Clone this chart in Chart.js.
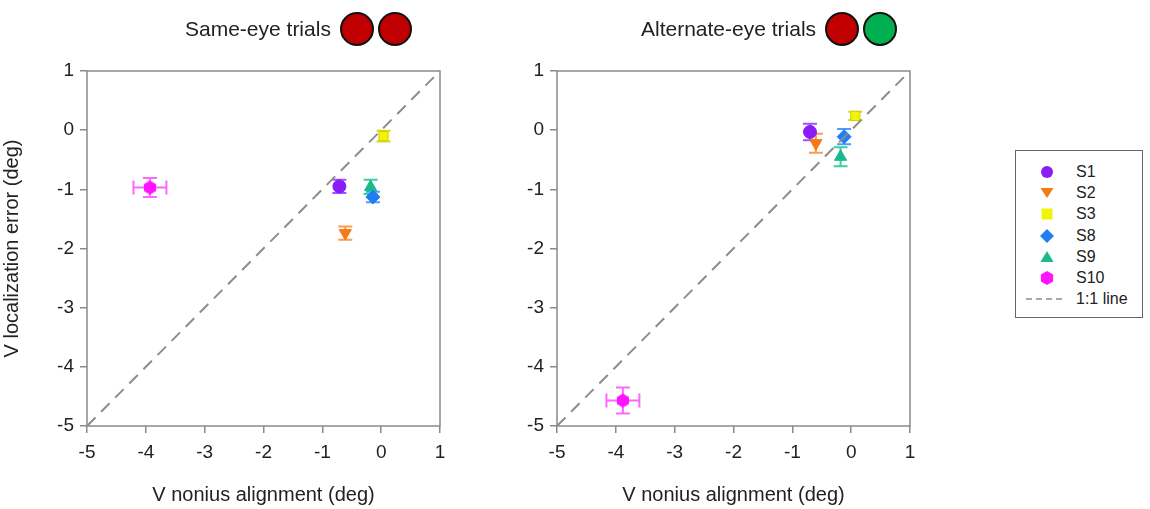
<!DOCTYPE html>
<html>
<head>
<meta charset="utf-8">
<title>V localization error vs V nonius alignment</title>
<script src="https://cdn.jsdelivr.net/npm/chart.js@4.4.1/dist/chart.umd.min.js"></script>
<style>
  html, body { margin: 0; padding: 0; background: #fff; }
  body { width: 1150px; height: 509px; position: relative; overflow: hidden;
         font-family: "Liberation Sans", Arial, sans-serif; color: #222; }
  .plot { position: absolute; top: 0; width: 470px; height: 509px; }
  .title { position: absolute; top: 11px; height: 36px; display: flex; align-items: center;
           font-size: 21px; white-space: nowrap; }
  .dot { display: inline-block; width: 30px; height: 30px; border: 2px solid #111;
         border-radius: 50%; margin-left: 4px; }
  .dot:first-of-type { margin-left: 9px; }
  #legend { position: absolute; left: 1015px; top: 150px; width: 126px; height: 166px;
            border: 1px solid #666; font-size: 16px; }
  #legend .row { position: absolute; left: 0; height: 20px; display: flex; align-items: center; }
  #legend svg { width: 56px; height: 20px; }
  #legend span { margin-left: 4px; }
</style>
</head>
<body>
<div class="plot" style="left:0"><canvas id="same"></canvas></div>
<div class="plot" style="left:470px"><canvas id="alt"></canvas></div>

<div class="title" style="left:185px">Same-eye trials
  <span class="dot" style="background:#c00000"></span><span class="dot" style="background:#c00000"></span></div>
<div class="title" style="left:641px">Alternate-eye trials
  <span class="dot" style="background:#c00000"></span><span class="dot" style="background:#00b050"></span></div>

<div id="legend"></div>

<script>
// subjects and their measured means / error bars
const subjects = ['S1', 'S2', 'S3', 'S8', 'S9', 'S10'];

const sameX    = [-0.71, -0.61, 0.04, -0.14, -0.18, -3.93];
const sameY    = [-0.95, -1.74, -0.10, -1.13, -0.96, -0.97];
const sameXErr = [0, 0, 0, 0, 0, 0.28];
const sameYErr = [0.11, 0.11, 0.09, 0.09, 0.12, 0.16];

const altX    = [-0.70, -0.60, 0.07, -0.12, -0.18, -3.88];
const altY    = [-0.03, -0.22, 0.24, -0.11, -0.45, -4.57];
const altXErr = [0, 0, 0, 0, 0, 0.28];
const altYErr = [0.14, 0.16, 0.07, 0.13, 0.16, 0.22];

const axisTicks = [-5, -4, -3, -2, -1, 0, 1];
const unityLine = [-5, 1];

const fills = ['#8a1cf5', '#f57a14', '#f2f20a', '#1f7ef0', '#19b98a', '#ff14ff'];
const bars  = ['#a050ff', '#ff9a4a', '#d8d820', '#4a9cff', '#3ccfa0', '#ff66ff'];

// hexagon marker for S10, Chart.js has no built-in hexagon
function hexagon(color, r) {
    var c = document.createElement('canvas');
    c.width = c.height = r * 2 + 2;
    var g = c.getContext('2d');
    g.beginPath();
    for (var i = 0; i < 6; i++) {
        var a = Math.PI / 6 + i * Math.PI / 3;
        var px = r + 1 + r * Math.cos(a), py = r + 1 + r * Math.sin(a);
        if (i === 0) g.moveTo(px, py); else g.lineTo(px, py);
    }
    g.closePath();
    g.fillStyle = color;
    g.fill();
    return c;
}

const styles = [
    { pointStyle: 'circle', radius: 6.5, rotation: 0 },
    { pointStyle: 'triangle', radius: 7, rotation: 180 },
    { pointStyle: 'rect', radius: 6.5, rotation: 0 },
    { pointStyle: 'rectRot', radius: 7, rotation: 0 },
    { pointStyle: 'triangle', radius: 7, rotation: 0 },
    { pointStyle: hexagon(fills[5], 7), radius: 7, rotation: 0 }
];

// vertical / horizontal error bars with caps, drawn under the markers
const errorBars = {
    id: 'errorBars',
    beforeDatasetsDraw: function(chart) {
        var ctx = chart.ctx, xs = chart.scales.x, ys = chart.scales.y;
        chart.data.datasets.forEach(function(ds) {
            if (!ds.err) return;
            ds.data.forEach(function(p, i) {
                var cx = xs.getPixelForValue(p.x), cy = ys.getPixelForValue(p.y);
                var cap = 7;
                ctx.save();
                ctx.strokeStyle = ds.barColor;
                ctx.lineWidth = 2;
                ctx.beginPath();
                if (ds.err.y > 0) {
                    var y0 = ys.getPixelForValue(p.y - ds.err.y), y1 = ys.getPixelForValue(p.y + ds.err.y);
                    ctx.moveTo(cx, y0); ctx.lineTo(cx, y1);
                    ctx.moveTo(cx - cap, y0); ctx.lineTo(cx + cap, y0);
                    ctx.moveTo(cx - cap, y1); ctx.lineTo(cx + cap, y1);
                }
                if (ds.err.x > 0) {
                    var x0 = xs.getPixelForValue(p.x - ds.err.x), x1 = xs.getPixelForValue(p.x + ds.err.x);
                    ctx.moveTo(x0, cy); ctx.lineTo(x1, cy);
                    ctx.moveTo(x0, cy - cap); ctx.lineTo(x0, cy + cap);
                    ctx.moveTo(x1, cy - cap); ctx.lineTo(x1, cy + cap);
                }
                ctx.stroke();
                ctx.restore();
            });
        });
    }
};

// grey box round the plot area
const frame = {
    id: 'frame',
    afterDraw: function(chart) {
        var a = chart.chartArea, ctx = chart.ctx;
        ctx.save();
        ctx.strokeStyle = '#8a8a8a';
        ctx.lineWidth = 1.5;
        ctx.strokeRect(a.left, a.top, a.right - a.left, a.bottom - a.top);
        ctx.restore();
    }
};

function buildDatasets(xv, yv, xe, ye) {
    var sets = [{
        label: '1:1 line',
        data: unityLine.map(function(v) { return { x: v, y: v }; }),
        showLine: true,
        borderColor: '#8c8c8c',
        borderWidth: 2,
        borderDash: [12, 8],
        pointRadius: 0
    }];
    subjects.forEach(function(s, i) {
        sets.push({
            label: s,
            data: [{ x: xv[i], y: yv[i] }],
            err: { x: xe[i], y: ye[i] },
            barColor: bars[i],
            backgroundColor: fills[i],
            borderColor: i === 2 ? '#d0d000' : fills[i],
            borderWidth: 1,
            pointStyle: styles[i].pointStyle,
            pointRadius: styles[i].radius,
            rotation: styles[i].rotation
        });
    });
    return sets;
}

function axis(title, isY) {
    return {
        type: 'linear',
        min: -5,
        max: 1,
        afterBuildTicks: function(scale) {
            scale.ticks = axisTicks.map(function(v) { return { value: v }; });
        },
        afterFit: function(scale) {
            if (isY) scale.width = 87; else scale.height = 83;
        },
        grid: { drawOnChartArea: false, drawTicks: true, tickLength: 7, color: '#8a8a8a', lineWidth: 1.5 },
        border: { display: false },
        ticks: {
            color: '#222',
            padding: isY ? 6 : 8,
            font: { family: '"Liberation Sans", Arial, sans-serif', size: 19 }
        },
        title: {
            display: title !== '',
            text: title,
            color: '#222',
            padding: isY ? { top: 0, bottom: 4 } : { top: 0, bottom: 2 },
            font: { family: '"Liberation Sans", Arial, sans-serif', size: 20 }
        }
    };
}

function makeChart(id, yTitle, xv, yv, xe, ye) {
    var ctx = document.getElementById(id).getContext('2d');
    return new Chart(ctx, {
        type: 'scatter',
        data: { datasets: buildDatasets(xv, yv, xe, ye) },
        options: {
            responsive: true,
            maintainAspectRatio: false,
            animation: false,
            layout: { padding: { top: 71, right: 30, left: 0, bottom: 0 } },
            plugins: {
                legend: { display: false },
                tooltip: { enabled: false }
            },
            scales: {
                x: axis('V nonius alignment (deg)', false),
                y: axis(yTitle, true)
            }
        },
        plugins: [errorBars, frame]
    });
}

makeChart('same', 'V localization error (deg)', sameX, sameY, sameXErr, sameYErr);
makeChart('alt', '', altX, altY, altXErr, altYErr);

// legend box with the same marker shapes
function markerSvg(i) {
    var c = fills[i], cx = 31, cy = 10;
    switch (i) {
        case 0: return '<circle cx="' + cx + '" cy="' + cy + '" r="6" fill="' + c + '"/>';
        case 1: return '<polygon points="24.5,5 37.5,5 31,15" fill="' + c + '"/>';
        case 2: return '<rect x="25.5" y="4.5" width="11" height="11" fill="' + c + '"/>';
        case 3: return '<polygon points="31,3 38,10 31,17 24,10" fill="' + c + '"/>';
        case 4: return '<polygon points="31,4 37.5,15 24.5,15" fill="' + c + '"/>';
        default:
            var pts = [];
            for (var k = 0; k < 6; k++) {
                var a = Math.PI / 6 + k * Math.PI / 3;
                pts.push((cx + 7 * Math.cos(a)).toFixed(1) + ',' + (cy + 7 * Math.sin(a)).toFixed(1));
            }
            return '<polygon points="' + pts.join(' ') + '" fill="' + c + '"/>';
    }
}

var legend = document.getElementById('legend');
var rows = subjects.map(function(s, i) { return { label: s, svg: markerSvg(i) }; });
rows.push({ label: '1:1 line',
            svg: '<line x1="10" y1="10" x2="50" y2="10" stroke="#8c8c8c" stroke-width="1.5" stroke-dasharray="6,4"/>' });
rows.forEach(function(r, i) {
    var row = document.createElement('div');
    row.className = 'row';
    row.style.top = (11 + i * 21.2) + 'px';
    row.innerHTML = '<svg viewBox="0 0 56 20">' + r.svg + '</svg><span>' + r.label + '</span>';
    legend.appendChild(row);
});
</script>
</body>
</html>
